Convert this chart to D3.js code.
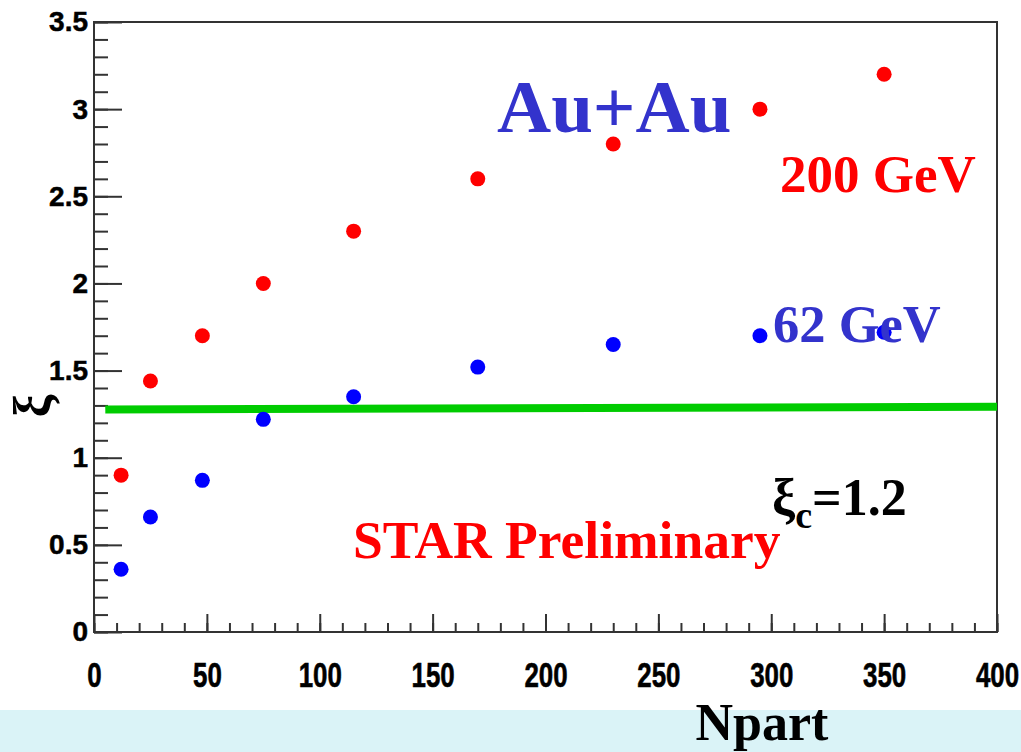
<!DOCTYPE html>
<html>
<head>
<meta charset="utf-8">
<script src="https://cdn.jsdelivr.net/npm/d3@7"></script>
<style>
  body { margin: 0; background: #fff; }
  svg { display: block; }
</style>
</head>
<body>
<div id="plot"></div>
<script>
// Data
const npart = [12, 25, 48, 75, 115, 170, 230, 295, 350];
const xi200 = [0.90, 1.44, 1.70, 2.00, 2.30, 2.60, 2.80, 3.00, 3.20];
const xi62 = [0.36, 0.66, 0.87, 1.22, 1.35, 1.52, 1.65, 1.70, 1.72];
const greenX = [5, 400];
const greenY = [1.277, 1.293];
const xTicks = [0, 50, 100, 150, 200, 250, 300, 350, 400];
const yTicks = [0, 0.5, 1, 1.5, 2, 2.5, 3, 3.5];

const W = 1021, H = 752;
const margin = {top: 22, right: 24, bottom: 120, left: 94};
const width = 997 - margin.left;
const height = 632 - margin.top;

const svg = d3.select("#plot")
    .append("svg")
    .attr("width", W)
    .attr("height", H);

// light band at the bottom
svg.append("rect")
    .attr("x", 0).attr("y", 710)
    .attr("width", W).attr("height", H - 710)
    .attr("fill", "#daf3f7");

const g = svg.append("g")
    .attr("transform", `translate(${margin.left},${margin.top})`);

const x = d3.scaleLinear().domain([0, 400]).range([0, width]);
const y = d3.scaleLinear().domain([0, 3.5]).range([height, 0]);

// minor ticks
g.append("g")
    .attr("transform", `translate(0,${height})`)
    .call(d3.axisBottom(x).tickValues(d3.range(0, 401, 10)).tickSize(-9).tickFormat(""))
    .call(a => a.select(".domain").remove());
g.append("g")
    .call(d3.axisLeft(y).tickValues(d3.range(0, 3.51, 0.1)).tickSize(-14).tickFormat(""))
    .call(a => a.select(".domain").remove());

// major ticks + labels
const xAxis = g.append("g")
    .attr("transform", `translate(0,${height})`)
    .call(d3.axisBottom(x).tickValues(xTicks).tickSize(-18).tickPadding(0).tickFormat(d3.format("d")));
xAxis.selectAll("text")
    .attr("y", 30)
    .attr("transform", "scale(0.74,1)")
    .style("font-family", "Liberation Sans, Arial, sans-serif")
    .style("font-weight", "bold")
    .style("font-size", "35px")
    .attr("fill", "#000")
    .attr("stroke", "#000")
    .attr("stroke-width", 0.6);

const yAxis = g.append("g")
    .call(d3.axisLeft(y).tickValues(yTicks).tickSize(-28).tickPadding(6)
        .tickFormat(d => d === 0 ? "0" : d3.format("")(d)));
yAxis.selectAll("text")
    .attr("x", -6)
    .style("font-family", "Liberation Sans, Arial, sans-serif")
    .style("font-weight", "bold")
    .style("font-size", "28px")
    .attr("fill", "#000")
    .attr("stroke", "#000")
    .attr("stroke-width", 0.5);

g.selectAll(".tick line").attr("stroke", "#333").attr("stroke-width", 2);
g.selectAll(".domain").remove();

// frame
g.append("rect")
    .attr("x", 0).attr("y", 0)
    .attr("width", width).attr("height", height)
    .attr("fill", "none")
    .attr("stroke", "#333")
    .attr("stroke-width", 2);

// green line
g.append("path")
    .datum(greenX.map((d, i) => ({x: d, y: greenY[i]})))
    .attr("fill", "none")
    .attr("stroke", "#00cc00")
    .attr("stroke-width", 8)
    .attr("d", d3.line().x(d => x(d.x)).y(d => y(d.y)));

// texts
const serif = "Liberation Serif, Times New Roman, serif";
svg.append("text")
    .attr("x", 497).attr("y", 132)
    .style("font-family", serif).style("font-weight", "bold").style("font-size", "75px")
    .attr("fill", "#3333cc")
    .text("Au+Au");
svg.append("text")
    .attr("x", 780).attr("y", 192)
    .style("font-family", serif).style("font-weight", "bold").style("font-size", "53px")
    .attr("fill", "#ff0000")
    .text("200 GeV");
svg.append("text")
    .attr("x", 773).attr("y", 342)
    .style("font-family", serif).style("font-weight", "bold").style("font-size", "52.5px")
    .attr("fill", "#3333cc")
    .text("62 GeV");
svg.append("text")
    .attr("x", 353).attr("y", 558)
    .style("font-family", serif).style("font-weight", "bold").style("font-size", "53.5px")
    .attr("fill", "#ff0000")
    .text("STAR Preliminary");

const xic = svg.append("text")
    .attr("x", 772).attr("y", 515)
    .style("font-family", serif).style("font-weight", "bold").style("font-size", "52px")
    .attr("fill", "#000");
xic.append("tspan").text("ξ");
xic.append("tspan").attr("dy", 13).style("font-size", "38px").text("c");
xic.append("tspan").attr("dy", -13).text("=1.2");

// axis titles
svg.append("text")
    .attr("transform", "translate(50,406) rotate(-90)")
    .attr("text-anchor", "middle")
    .style("font-family", serif).style("font-weight", "bold").style("font-size", "52px")
    .attr("fill", "#000")
    .text("ξ");
svg.append("text")
    .attr("x", 762).attr("y", 740)
    .attr("text-anchor", "middle")
    .style("font-family", serif).style("font-weight", "bold").style("font-size", "52px")
    .attr("fill", "#000")
    .text("Npart");

// markers
g.selectAll("circle.r200")
    .data(npart)
    .enter()
    .append("circle")
    .attr("class", "r200")
    .attr("cx", d => x(d))
    .attr("cy", (d, i) => y(xi200[i]))
    .attr("r", 7.5)
    .attr("fill", "#ff0000");

g.selectAll("circle.r62")
    .data(npart)
    .enter()
    .append("circle")
    .attr("class", "r62")
    .attr("cx", d => x(d))
    .attr("cy", (d, i) => y(xi62[i]))
    .attr("r", 7.5)
    .attr("fill", "#0000ff");
</script>
</body>
</html>
